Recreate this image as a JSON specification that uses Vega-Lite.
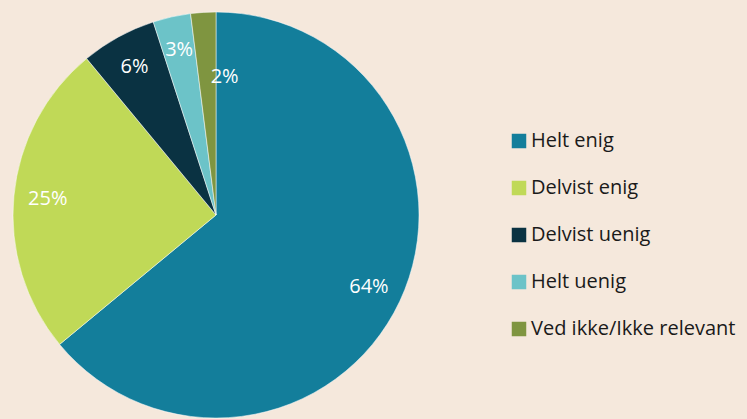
{
  "$schema": "https://vega.github.io/schema/vega-lite/v6.json",
  "width": 432,
  "height": 430,
  "autosize": "none",
  "padding": {"left": 0, "top": 0, "right": 315, "bottom": 0},
  "background": "#f5e8dc",
  "config": {"view": {"stroke": null}},
  "data": {"values": [
    {"svar": "Helt enig", "pct": 64, "rank": 1},
    {"svar": "Delvist enig", "pct": 25, "rank": 2},
    {"svar": "Delvist uenig", "pct": 6, "rank": 3},
    {"svar": "Helt uenig", "pct": 3, "rank": 4},
    {"svar": "Ved ikke/Ikke relevant", "pct": 2, "rank": 5}
  ]},
  "transform": [{"calculate": "datum.pct + '%'", "as": "label"}],
  "encoding": {
    "theta": {"field": "pct", "type": "quantitative", "stack": true},
    "order": {"field": "rank", "type": "quantitative"}
  },
  "layer": [
    {
      "mark": {"type": "arc", "outerRadius": 203, "stroke": "#ffffff", "strokeWidth": 0.5},
      "encoding": {
        "color": {
          "field": "svar", "type": "nominal",
          "scale": {
            "domain": ["Helt enig", "Delvist enig", "Delvist uenig", "Helt uenig", "Ved ikke/Ikke relevant"],
            "range": ["#137e9b", "#c0d957", "#0a3242", "#6cc3c8", "#7f9540"]
          },
          "legend": {
            "title": null,
            "orient": "none",
            "legendX": 509,
            "legendY": 131,
            "symbolType": "square",
            "symbolSize": 210,
            "symbolStrokeWidth": 0,
            "labelFont": "Open Sans",
            "labelFontSize": 20,
            "labelColor": "#1a1a1a",
            "labelOffset": 2,
            "rowPadding": 27,
            "labelLimit": 300
          }
        }
      }
    },
    {
      "transform": [{"filter": "datum.rank < 5"}],
      "mark": {"type": "text", "radius": 169, "font": "Open Sans", "fontSize": 20, "color": "#ffffff"},
      "encoding": {"text": {"field": "label", "type": "nominal"}}
    },
    {
      "transform": [{"filter": "datum.rank == 5"}],
      "mark": {"type": "text", "radius": 138, "font": "Open Sans", "fontSize": 20, "color": "#ffffff"},
      "encoding": {"text": {"field": "label", "type": "nominal"}}
    }
  ]
}
